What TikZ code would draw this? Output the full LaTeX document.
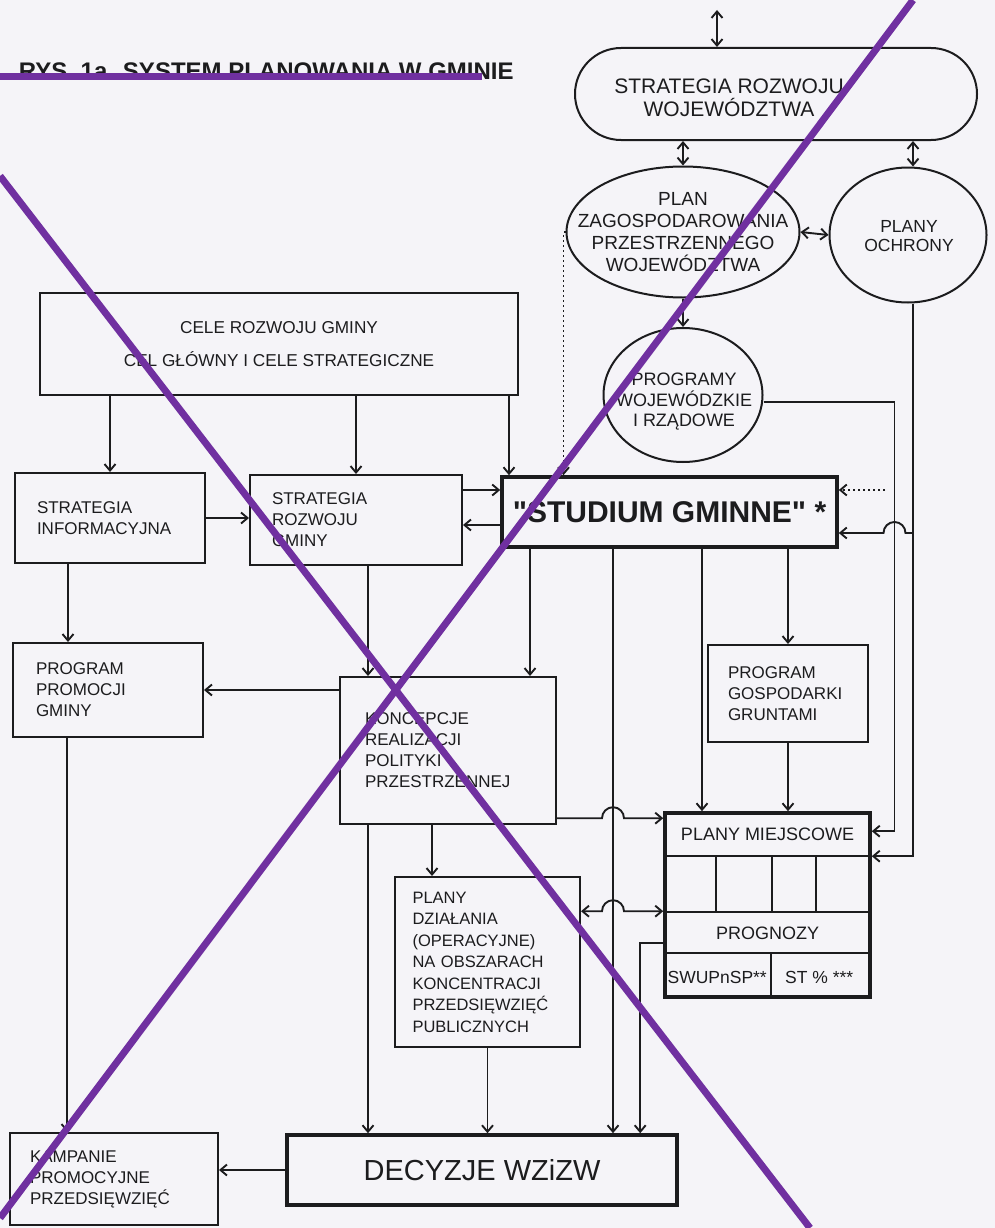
\documentclass[tikz,border=0pt]{standalone}
\usepackage{fontspec}
\setmainfont{Liberation Sans}[Ligatures=TeXOff]
\usetikzlibrary{shapes.geometric,arrows.meta,positioning}

\definecolor{paper}{RGB}{245,244,248}
\definecolor{ink}{RGB}{28,28,30}
\definecolor{strike}{RGB}{112,48,160}

\tikzset{
  >={Straight Barb[length=6.5pt,width=11pt]},
  box/.style={draw=ink, line width=2pt, align=left, inner ysep=0pt,
              font=\fontsize{17}{21}\selectfont},
  heavy/.style={draw=ink, line width=3.6pt, inner sep=0pt},
  ring/.style={draw=ink, ellipse, line width=2pt, inner sep=0pt},
  ringtext/.style={align=center, inner sep=0pt},
  dots/.style={dash pattern=on 2pt off 3pt},
}

\begin{document}
\begin{tikzpicture}[x=1pt,y=-1pt,color=ink,line width=1.9pt]

\fill[paper] (0,0) rectangle (995,1228);
\useasboundingbox (0,0) rectangle (995,1228);

\node[anchor=base west, inner sep=0pt, font=\bfseries\fontsize{24}{28}\selectfont] (title) at (18,80) {RYS. 1a. SYSTEM PLANOWANIA W GMINIE};

% poziom wojewodzki
\node[draw=ink, line width=2pt, rounded corners=46pt, minimum width=402pt, minimum height=92pt] (woj) at (776,94) {};
\node[ringtext, font=\fontsize{21}{23}\selectfont] (wojT) at (729,98) {STRATEGIA ROZWOJU\\WOJEWÓDZTWA};
\node[ring, minimum width=233pt, minimum height=131pt] (pzpw) at (683,232) {};
\node[ringtext, font=\fontsize{19}{22}\selectfont] (pzpwT) at (683,232) {PLAN\\ZAGOSPODAROWANIA\\PRZESTRZENNEGO\\WOJEWÓDZTWA};
\node[ring, minimum width=157pt, minimum height=135pt] (ochr) at (908,235) {};
\node[ringtext, font=\fontsize{17.5}{19.5}\selectfont] (ochrT) at (909,236) {PLANY\\OCHRONY};
\node[ring, minimum width=159pt, minimum height=134pt] (progw) at (683,395) {};
\node[ringtext, font=\fontsize{18}{20.5}\selectfont] (progwT) at (684,402) {PROGRAMY\\WOJEWÓDZKIE\\I RZĄDOWE};

% poziom gminny
\node[box, align=center, minimum width=478pt, minimum height=102pt, font=\fontsize{17.2}{33}\selectfont] (cele) at (279,344) {CELE ROZWOJU GMINY\\CEL GŁÓWNY I CELE STRATEGICZNE};
\node[box, text width=146pt, inner xsep=22pt, minimum height=90pt] (info) at (110,518) {STRATEGIA\\INFORMACYJNA};
\node[box, text width=168pt, inner xsep=22pt, minimum height=90pt] (srg) at (356,520) {STRATEGIA\\ROZWOJU\\GMINY};
\node[heavy, minimum width=335pt, minimum height=70pt, font=\bfseries\fontsize{30}{34}\selectfont] (studium) at (669.5,512) {"STUDIUM GMINNE" *};
\node[box, text width=144pt, inner xsep=23pt, minimum height=94pt] (promo) at (108,690) {PROGRAM\\PROMOCJI\\GMINY};
\node[box, text width=166pt, inner xsep=25pt, minimum height=147pt] (konc) at (448,750.5) {KONCEPCJE\\REALIZACJI\\POLITYKI\\PRZESTRZENNEJ};
\node[box, text width=120pt, inner xsep=20pt, minimum height=97pt] (grunt) at (788,693.5) {PROGRAM\\GOSPODARKI\\GRUNTAMI};
\node[box, text width=150pt, inner xsep=17.5pt, minimum height=170pt, font=\fontsize{16.5}{21.5}\selectfont] (dzial) at (487.5,962) {PLANY\\DZIAŁANIA\\(OPERACYJNE)\\NA OBSZARACH\\KONCENTRACJI\\PRZEDSIĘWZIĘĆ\\PUBLICZNYCH};
\node[heavy, minimum width=390pt, minimum height=70pt, font=\fontsize{29}{33}\selectfont] (decyzje) at (482,1170) {DECYZJE WZiZW};
\node[box, text width=168pt, inner xsep=20pt, minimum height=92pt] (kamp) at (114,1179) {KAMPANIE\\PROMOCYJNE\\PRZEDSIĘWZIĘĆ};

% plany miejscowe z prognozami
\node[heavy, minimum width=205pt, minimum height=184pt] (pm) at (767.5,905) {};
\draw ([yshift=-45pt]pm.north west) -- ([yshift=-45pt]pm.north east);
\draw ([yshift=-101pt]pm.north west) -- ([yshift=-101pt]pm.north east);
\draw ([yshift=-142pt]pm.north west) -- ([yshift=-142pt]pm.north east);
\foreach \dx in {53,109,153}
  \draw ([xshift=\dx pt,yshift=-45pt]pm.north west) -- ([xshift=\dx pt,yshift=-101pt]pm.north west);
\draw ([xshift=108pt]pm.south west) -- ([xshift=108pt,yshift=-142pt]pm.north west);
\node[font=\fontsize{18}{21}\selectfont] (pmT) at ([yshift=-23pt]pm.north) {PLANY MIEJSCOWE};
\node[font=\fontsize{18}{21}\selectfont] (progT) at ([yshift=-122pt]pm.north) {PROGNOZY};
\node[font=\fontsize{17.5}{21}\selectfont, inner sep=0pt] (swupT) at ([xshift=54pt,yshift=21pt]pm.south west) {SWUPnSP**};
\node[font=\fontsize{17.5}{21}\selectfont, inner sep=0pt] (stT) at ([xshift=156pt,yshift=21pt]pm.south west) {ST \% ***};

% polaczenia wojewodzkie
\coordinate (top) at (717,10);
\draw[<->] (top) -- (top |- woj.north);
\draw[<->] (pzpw.north |- woj.south) -- (pzpw.north);
\coordinate (o1) at ([xshift=5pt]ochr.south);
\draw[<->] (o1 |- woj.south) -- (o1 |- ochr.north);
\draw[<->] (pzpw.east) -- (ochr.west);
\draw[->] (pzpw.south) -- (progw.north);
\draw[->, dots] (pzpw.west) -| ([xshift=-106pt]studium.north);
\coordinate (dot) at (885,490);
\draw[->, dots] (dot) -- (dot -| studium.east);

% cele i strategie
\draw[->] (cele.south -| info.north) -- (info.north);
\draw[->] (cele.south -| srg.north) -- (srg.north);
\coordinate (c3) at ([xshift=-10pt]cele.south east);
\draw[->] (c3) -- (c3 |- studium.north);
\draw[->] (info.east) -- (info.east -| srg.west);
\coordinate (s1) at ([yshift=30pt]srg.east);
\coordinate (s2) at ([yshift=-5pt]srg.east);
\draw[->] (s1) -- (s1 -| studium.west);
\draw[->] (s2 -| studium.west) -- (s2);
\coordinate (i1) at ([xshift=-42pt]info.south);
\draw[->] (i1) -- (i1 |- promo.north);
\coordinate (p1) at ([xshift=-41pt]promo.south);
\draw[->] (p1) -- (p1 |- kamp.north);
\coordinate (r1) at ([xshift=12pt]srg.south);
\draw[->] (r1) -- (r1 |- konc.north);
\draw[->] (konc.west |- promo.east) -- (promo.east);
\coordinate (k1) at (r1 |- konc.south);
\draw[->] (k1) -- (k1 |- decyzje.north);
\coordinate (k2) at ([xshift=-16pt]konc.south);
\draw[->] (k2) -- (k2 |- dzial.north);
\draw[->] (dzial.south) -- (dzial.south |- decyzje.north);
\draw[->] (decyzje.west) -- (decyzje.west -| kamp.east);

% ze studium w dol
\coordinate (f1) at ([xshift=-139.5pt]studium.south);
\coordinate (f2) at ([xshift=-56.5pt]studium.south);
\coordinate (f3) at ([xshift=32.5pt]studium.south);
\draw[->] (f1) -- (f1 |- konc.north);
\draw[->] (f2) -- (f2 |- decyzje.north);
\draw[->] (f3) -- (f3 |- pm.north);
\draw[->] (studium.south -| grunt.north) -- (grunt.north);
\draw[->] (grunt.south) -- (grunt.south |- pm.north);

% do planow miejscowych
\coordinate (h1) at ([yshift=-7pt]pm.north west);
\coordinate (x1) at (h1 -| f2);
\draw[->] (h1 -| konc.east) -- ([xshift=-11pt]x1) arc[start angle=180,end angle=0,radius=11pt] -- (h1);
\coordinate (h2) at ([yshift=-100pt]pm.north west);
\coordinate (x2) at (h2 -| f2);
\draw[<->] (h2 -| dzial.east) -- ([xshift=-11pt]x2) arc[start angle=180,end angle=0,radius=11pt] -- (h2);
\coordinate (g1) at ([yshift=-7pt]progw.east);
\coordinate (pv) at ([xshift=131pt]g1);
\draw[->] (g1) -- (pv) |- ([yshift=-20pt]pm.north east);
\draw[->] (o1) |- ([yshift=-45pt]pm.north east);
\coordinate (b1) at ([yshift=-21pt]studium.east);
\coordinate (x3) at (b1 -| pv);
\draw[->] (b1 -| o1) -- ([xshift=11pt]x3) arc[start angle=0,end angle=180,radius=11pt] -- (b1);
\coordinate (q1) at ([yshift=-132pt]pm.north west);
\coordinate (q2) at ([xshift=-23pt]q1);
\draw[->] (q1) -- (q2) -- (q2 |- decyzje.north);

% przekreslenie
\draw[strike, line width=7pt] (0,77) -- (482,77);
\draw[strike, line width=7pt] (0,176) -- (810,1228);
\draw[strike, line width=7pt] (913,0) -- (0,1218);

\end{tikzpicture}
\end{document}
